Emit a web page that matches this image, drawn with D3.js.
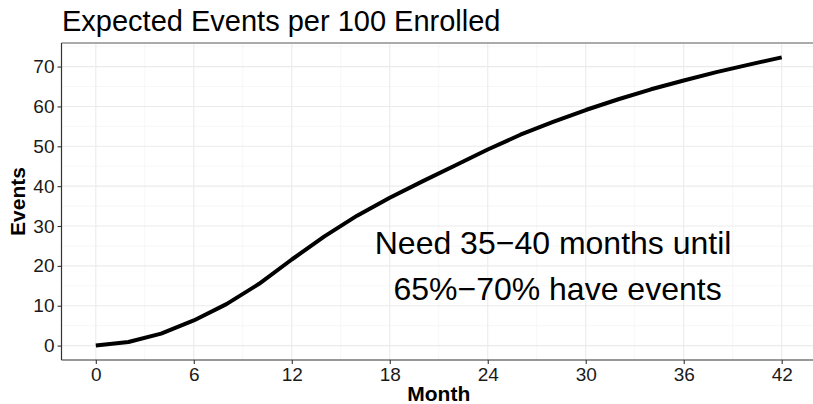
<!DOCTYPE html>
<html>
<head>
<meta charset="utf-8">
<script src="https://cdn.jsdelivr.net/npm/d3@7"></script>
<style>
  html, body { margin: 0; padding: 0; background: #fff; }
  svg { display: block; font-family: "Liberation Sans", Arial, Helvetica, sans-serif; }
</style>
</head>
<body>
<svg id="chart" width="813" height="404"></svg>
<script>
// Expected cumulative events per 100 enrolled, by month of follow-up
const months = [0, 2, 4, 6, 8, 10, 12, 14, 16, 18, 20, 22, 24, 26, 28, 30, 32, 34, 36, 38, 40, 42];
const events = [0, 0.9, 3.0, 6.3, 10.4, 15.5, 21.6, 27.4, 32.6, 37.1, 41.2, 45.2, 49.2, 52.9, 56.1, 59.1, 61.8, 64.3, 66.5, 68.6, 70.5, 72.3];
const xTicks = [0, 6, 12, 18, 24, 30, 36, 42];
const yTicks = [0, 10, 20, 30, 40, 50, 60, 70];
const xMinor = [3, 9, 15, 21, 27, 33, 39];
const yMinor = [5, 15, 25, 35, 45, 55, 65, 75];

const titleText = "Expected Events per 100 Enrolled";
const xTitle = "Month";
const yTitle = "Events";
const noteLines = ["Need 35\u221240 months until", " 65%\u221270% have events"];
const noteAt = 28;

const svg = d3.select("#chart");
const panel = { left: 61.5, right: 816, top: 43, bottom: 360 };

// ggplot-style 5% expansion of the data range
const xExt = d3.extent(months), yExt = d3.extent(events);
const xPad = (xExt[1] - xExt[0]) * 0.05, yPad = (yExt[1] - yExt[0]) * 0.05;
const x = d3.scaleLinear().domain([xExt[0] - xPad, xExt[1] + xPad]).range([panel.left, panel.right]);
const y = d3.scaleLinear().domain([yExt[0] - yPad, yExt[1] + yPad]).range([panel.bottom, panel.top]);

const g = svg.append("g");

// minor grid
g.append("g").selectAll("line").data(xMinor).join("line")
  .attr("x1", d => x(d)).attr("x2", d => x(d))
  .attr("y1", panel.top).attr("y2", panel.bottom)
  .attr("stroke", "#f2f2f2").attr("stroke-width", 0.6);
g.append("g").selectAll("line").data(yMinor.filter(v => y(v) > panel.top)).join("line")
  .attr("y1", d => y(d)).attr("y2", d => y(d))
  .attr("x1", panel.left).attr("x2", panel.right)
  .attr("stroke", "#f2f2f2").attr("stroke-width", 0.6);

// major grid
g.append("g").selectAll("line").data(xTicks).join("line")
  .attr("x1", d => x(d)).attr("x2", d => x(d))
  .attr("y1", panel.top).attr("y2", panel.bottom)
  .attr("stroke", "#ebebeb").attr("stroke-width", 1.1);
g.append("g").selectAll("line").data(yTicks).join("line")
  .attr("y1", d => y(d)).attr("y2", d => y(d))
  .attr("x1", panel.left).attr("x2", panel.right)
  .attr("stroke", "#ebebeb").attr("stroke-width", 1.1);

// curve
const line = d3.line().x((d, i) => x(months[i])).y(d => y(d));
g.append("path").datum(events)
  .attr("d", line)
  .attr("fill", "none")
  .attr("stroke", "#000")
  .attr("stroke-width", 4)
  .attr("stroke-linejoin", "round");

// annotation
const note = g.append("text")
  .attr("x", x(noteAt)).attr("y", 254)
  .attr("text-anchor", "middle")
  .attr("font-size", 32)
  .attr("fill", "#000")
  .style("white-space", "pre");
note.selectAll("tspan").data(noteLines).join("tspan")
  .attr("x", x(noteAt))
  .attr("dy", (d, i) => i === 0 ? 0 : 45.5)
  .text(d => d);

// panel top border
g.append("line")
  .attr("x1", panel.left).attr("x2", panel.right)
  .attr("y1", panel.top).attr("y2", panel.top)
  .attr("stroke", "#8f8f8f").attr("stroke-width", 1.4);

// axes
const xAxis = d3.axisBottom(x).tickValues(xTicks).tickSize(4).tickPadding(4).tickSizeOuter(0);
const yAxis = d3.axisLeft(y).tickValues(yTicks).tickSize(4).tickPadding(3).tickSizeOuter(0);

const xg = g.append("g").attr("transform", `translate(0,${panel.bottom})`).call(xAxis);
const yg = g.append("g").attr("transform", `translate(${panel.left},0)`).call(yAxis);
[xg, yg].forEach(a => {
  a.select(".domain").attr("stroke", "#333").attr("stroke-width", 1.2);
  a.selectAll(".tick line").attr("stroke", "#333").attr("stroke-width", 1.1);
  a.selectAll(".tick text").attr("fill", "#1a1a1a").attr("font-size", 19)
    .attr("font-family", "'Liberation Sans', Arial, sans-serif");
});
xg.select(".domain").attr("d", `M${panel.left},0H${panel.right}`);
yg.select(".domain").attr("d", `M0,${panel.top}V${panel.bottom}`);

// titles
svg.append("text")
  .attr("x", 62).attr("y", 31)
  .attr("font-size", 29)
  .attr("fill", "#000")
  .text(titleText);

svg.append("text")
  .attr("x", (panel.left + panel.right) / 2).attr("y", 401)
  .attr("text-anchor", "middle")
  .attr("font-size", 21)
  .attr("font-weight", "bold")
  .attr("fill", "#000")
  .text(xTitle);

svg.append("text")
  .attr("transform", `translate(25,${(panel.top + panel.bottom) / 2}) rotate(-90)`)
  .attr("text-anchor", "middle")
  .attr("font-size", 21)
  .attr("font-weight", "bold")
  .attr("fill", "#000")
  .text(yTitle);
</script>
</body>
</html>
